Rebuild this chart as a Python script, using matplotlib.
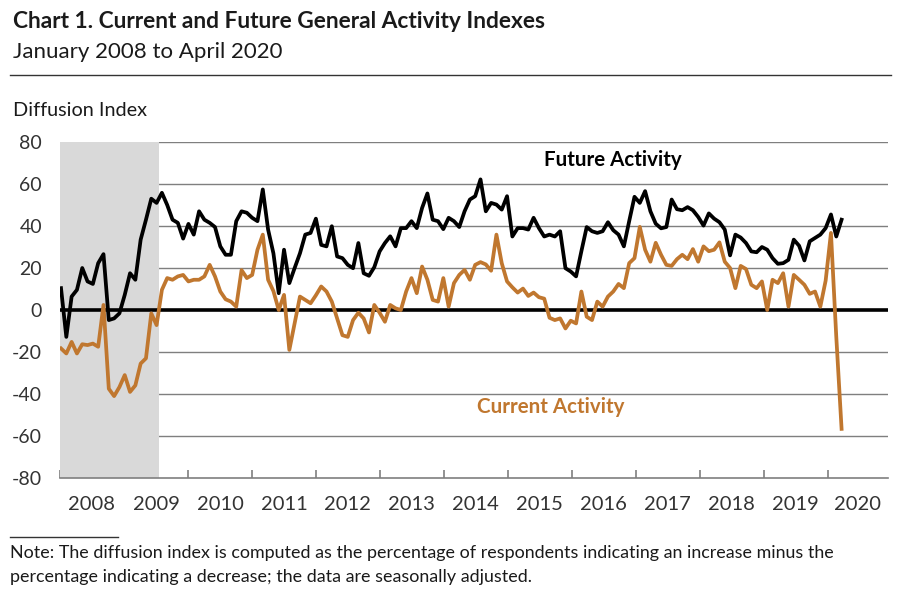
import matplotlib
matplotlib.use("Agg")
import matplotlib.pyplot as plt
import numpy as np

plt.rcParams['font.family'] = ['Lato', 'DejaVu Sans']

# ---- data (monthly, Jan 2008 - Apr 2020) ----
future_activity = [
    10.4, -12.8, 6.4, 9.6, 20, 13.6, 12.4, 22.3, 26.6, -4.8, -4, -1.6,          # 2008
    7.2, 17.5, 14.4, 33.5, 43, 53, 51, 55.8, 50, 43, 41.5, 34,                  # 2009
    41, 35.9, 47, 43, 41.5, 39.5, 30.3, 26.3, 26.3, 42.3, 47, 46.3,             # 2010
    43.9, 42.3, 57.4, 38.3, 27, 8, 28.7, 12.8, 20, 27, 35.9, 36.7,              # 2011
    43.5, 31, 30.3, 39.9, 25.5, 24.7, 21.5, 19.9, 31.9, 17.5, 16.3, 20.4,       # 2012
    27.9, 31.9, 35.1, 30.3, 39, 39, 42.3, 39, 48.6, 55.5, 43, 42.3,             # 2013
    38.5, 43.9, 42.3, 39.5, 47, 52.6, 54.2, 62.2, 47, 51, 50.2, 47.8,           # 2014
    54.2, 35, 39, 39, 38.3, 43.9, 39, 35, 35.9, 35, 37.5, 19.9,                 # 2015
    18.3, 16, 28, 39.5, 37.5, 36.7, 37.5, 41.8, 38, 35.9, 30.3, 42.3,           # 2016
    53.9, 51, 56.6, 47, 41.1, 38.9, 39.5, 52.6, 48, 47.5, 49, 47.5,             # 2017
    44.3, 40.2, 46, 43.5, 41.8, 38.3, 26, 35.9, 34.5, 31.9, 27.9, 27.5,         # 2018
    30, 28.7, 24.7, 22, 22.3, 23.9, 33.5, 30.6, 23.6, 32.7, 34.3, 35.9,         # 2019
    39, 45.5, 35, 43,                                                           # 2020
]
current_activity = [
    -18.3, -20.7, -15.2, -20.7, -16.3, -16.7, -16, -17.5, 2.4, -37.5, -41, -36.7,  # 2008
    -31, -39, -35.9, -25.5, -23, -1.6, -7.2, 9.6, 15.2, 14.4, 16, 16.7,            # 2009
    13.6, 14.4, 14.4, 16, 21.5, 16, 8.8, 5.1, 4, 1.6, 19, 15.2,                    # 2010
    16.7, 28.7, 35.9, 14.4, 9, 0, 7.2, -19, -6.4, 6.4, 4.8, 3.2,                   # 2011
    7, 11.2, 8.8, 4, -4, -12, -12.8, -4.8, -1.3, -4, -10.7, 2.4,                   # 2012
    -1.3, -5.6, 2.4, 0.8, 0, 8.8, 15.2, 8, 20.7, 14.4, 4.8, 4,                     # 2013
    15.2, 1.6, 12.8, 16.7, 19.1, 14.4, 21.5, 22.8, 21.7, 18.7, 35.9, 22.3,         # 2014
    13.6, 10.8, 8.3, 10.2, 6.7, 8.3, 6.1, 5.4, -3.7, -4.8, -4, -8.8,               # 2015
    -5.1, -6.4, 8.8, -3.2, -4.8, 4, 1.6, 6.4, 8.8, 12.4, 10.4, 22.3,               # 2016
    24.7, 39.6, 28.7, 23, 32, 26.3, 21.5, 21, 24.2, 26.3, 24.2, 29,                # 2017
    23, 30.3, 28, 28.7, 32.2, 23, 20, 10.4, 21, 19.5, 12, 10.4,                    # 2018
    13.6, 0, 14.4, 12.8, 17.5, 1.6, 16.7, 14.4, 12, 7.7, 8.8, 1.6,                 # 2019
    14, 36.7, -12.7, -56.6,                                                        # 2020
]
year_labels = ['2008', '2009', '2010', '2011', '2012', '2013', '2014',
               '2015', '2016', '2017', '2018', '2019', '2020']
y_ticks = [-80, -60, -40, -20, 0, 20, 40, 60, 80]
recession_months = 18.45   # shaded period length from Jan 2008

# ---- figure ----
W, H = 904, 606
fig = plt.figure(figsize=(W / 100, H / 100), dpi=100)

def fx(px):
    return px / W

def fy(py):
    return 1 - py / H

ax_left, ax_right, ax_top, ax_bot = 60, 888, 142, 478
ax = fig.add_axes([fx(ax_left), fy(ax_bot), fx(ax_right - ax_left), (ax_bot - ax_top) / H])

months = np.arange(len(future_activity))
x0 = -0.19
step = 12.05
xmax = x0 + (ax_right - ax_left) / 5.31
ax.set_xlim(x0, xmax)
ax.set_ylim(-80, 80)

# shading
ax.axvspan(x0, recession_months, color='#d9d9d9', zorder=2, lw=0)

# gridlines
for yv in y_ticks:
    if yv in (0, -80):
        continue
    ax.axhline(yv, color='#7f7f7f', lw=1.0, zorder=1)
ax.axhline(0, color='black', lw=2.6, zorder=4)

ax.plot(months, current_activity, color='#c0772f', lw=2.7, zorder=5,
        solid_joinstyle='round')
ax.plot(months, future_activity, color='black', lw=2.7, zorder=6,
        solid_joinstyle='round')

# axes styling
for s in ['left', 'right', 'top']:
    ax.spines[s].set_visible(False)
ax.spines['bottom'].set_color('#7f7f7f')
ax.spines['bottom'].set_linewidth(1.2)
ax.spines['bottom'].set_zorder(3)

ax.set_yticks(y_ticks)
ax.set_yticklabels([str(v) for v in y_ticks])
ax.tick_params(axis='y', length=0, pad=13, labelsize=14, colors='#333333')

tick_pos = [x0 + step * k for k in range(13)]
ax.set_xticks(tick_pos)
ax.set_xticklabels([])
ax.tick_params(axis='x', direction='in', length=6, width=1.2, color='#7f7f7f')

centers = [(tick_pos[k] + (tick_pos[k + 1] if k + 1 < len(tick_pos) else xmax)) / 2
           for k in range(len(tick_pos))]
for c, lab in zip(centers, year_labels):
    ax.text(c, -92.5, lab, ha='center', va='center', fontsize=14.5, color='#333333',
            clip_on=False)

# series labels
ax.text(104, 71.4, 'Future Activity', ha='center', va='center', fontsize=14.8,
        fontweight='bold', color='black')
ax.text(92.3, -46.2, 'Current Activity', ha='center', va='center', fontsize=14.8,
        fontweight='bold', color='#c0772f')

# titles
fig.text(fx(13), fy(22), 'Chart 1. Current and Future General Activity Indexes',
         ha='left', va='center', fontsize=16.4, fontweight='bold', color='#1a1a1a')
fig.text(fx(13), fy(52), 'January 2008 to April 2020', ha='left', va='center',
         fontsize=16, color='#1a1a1a')
fig.add_artist(plt.Line2D([fx(10), fx(891)], [fy(75), fy(75)], color='#333333', lw=1.0))
fig.text(fx(13), fy(111), 'Diffusion Index', ha='left', va='center', fontsize=14.3,
         color='#1a1a1a')

# footnote
fig.add_artist(plt.Line2D([fx(10), fx(118)], [fy(537), fy(537)], color='#333333', lw=1.0))
fig.text(fx(10), fy(553), 'Note: The diffusion index is computed as the percentage of respondents '
         'indicating an increase minus the', ha='left', va='center', fontsize=12.9,
         color='#1a1a1a')
fig.text(fx(10), fy(577), 'percentage indicating a decrease; the data are seasonally adjusted.',
         ha='left', va='center', fontsize=12.9, color='#1a1a1a')

fig.savefig('out.png', dpi=100)
